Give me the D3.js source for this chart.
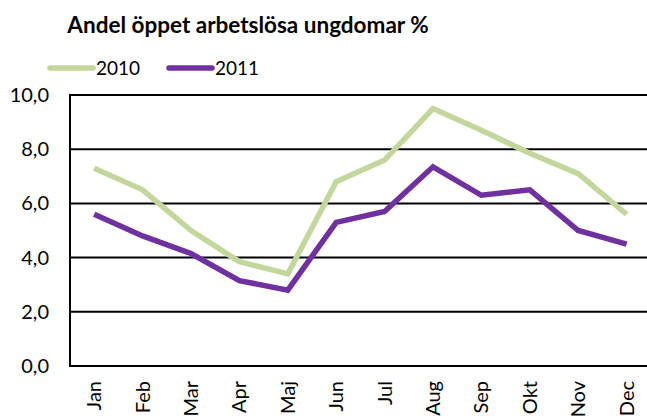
<!DOCTYPE html>
<html><head><meta charset="utf-8">
<script src="https://cdn.jsdelivr.net/npm/d3@7"></script>
<style>body{margin:0;background:#fff}svg{display:block}text{font-family:Lato,"DejaVu Sans",sans-serif}</style>
</head><body>
<script>
const months = ["Jan","Feb","Mar","Apr","Maj","Jun","Jul","Aug","Sep","Okt","Nov","Dec"];
const values2010 = [7.3,6.5,5.0,3.85,3.4,6.8,7.6,9.5,8.7,7.85,7.1,5.6];
const values2011 = [5.6,4.8,4.15,3.15,2.8,5.3,5.7,7.35,6.3,6.5,5.0,4.5];
const yTicks = [0,2,4,6,8,10];
const seriesNames = ["2010","2011"];
const colors = ["#c3d69b","#7030a0"];

const W=647,H=419;
const svg=d3.select("body").append("svg").attr("width",W).attr("height",H);
const x=d3.scaleBand().domain(months).range([70,650.8]);
const y=d3.scaleLinear().domain([0,10]).range([366,95]);

svg.append("text").attr("x",248).attr("y",33).attr("text-anchor","middle")
  .attr("font-size",22.5).attr("font-weight","bold").text("Andel öppet arbetslösa ungdomar %");

// gridlines
svg.append("g").selectAll("line").data(yTicks).join("line")
  .attr("x1",70).attr("x2",W).attr("y1",d=>y(d)).attr("y2",d=>y(d))
  .attr("stroke","#000").attr("stroke-width",2);
svg.append("line").attr("x1",70).attr("x2",70).attr("y1",y(10)-1).attr("y2",y(0)+1).attr("stroke","#000").attr("stroke-width",2);

const yAxis=svg.append("g").attr("transform","translate(70,0)")
  .call(d3.axisLeft(y).tickValues(yTicks).tickSize(0).tickPadding(21).tickFormat(d=>d3.format(".1f")(d).replace(".",",")));
yAxis.select(".domain").remove();
yAxis.selectAll("text").attr("font-size",20).attr("fill","#000").attr("font-family","Lato,sans-serif");

const xAxis=svg.append("g").attr("transform","translate(0,366)")
  .call(d3.axisBottom(x).tickSize(0));
xAxis.select(".domain").remove();
xAxis.selectAll("text").attr("font-size",20).attr("fill","#000").attr("font-family","Lato,sans-serif")
  .attr("transform","rotate(-90)").attr("text-anchor","end").attr("dy","0.35em").attr("x",-15).attr("y",0);

const line=d3.line().x((d,i)=>x(months[i])+x.bandwidth()/2).y(d=>y(d));
[values2010,values2011].forEach((vals,k)=>{
  svg.append("path").datum(vals).attr("d",line).attr("fill","none")
    .attr("stroke",colors[k]).attr("stroke-width",5.5).attr("stroke-linejoin","miter");
});

// legend
const legX=[50,169];
seriesNames.forEach((n,k)=>{
  svg.append("line").attr("x1",legX[k]).attr("x2",legX[k]+43).attr("y1",68).attr("y2",68)
    .attr("stroke",colors[k]).attr("stroke-width",5.5).attr("stroke-linecap","round");
  svg.append("text").attr("x",legX[k]+46).attr("y",75).attr("font-size",19).text(n);
});
</script>
</body></html>
